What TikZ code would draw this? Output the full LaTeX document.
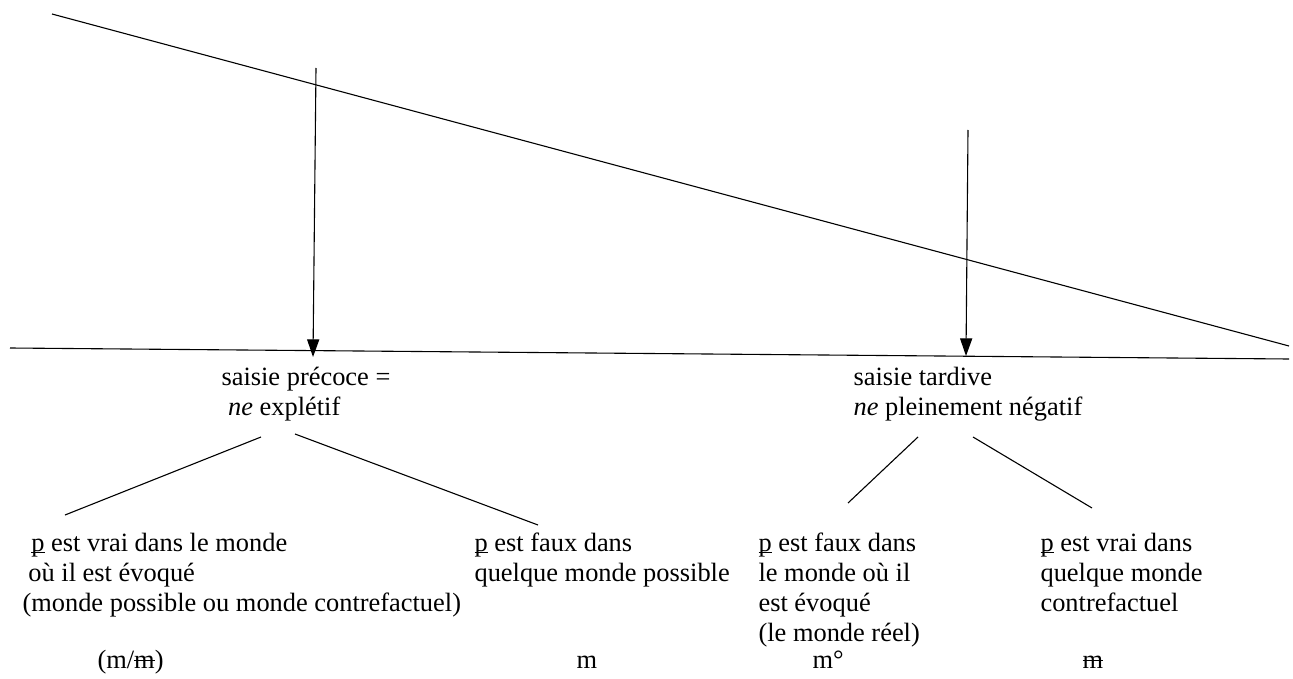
\documentclass[tikz,border=0pt]{standalone}
\usepackage{fontspec}
\setmainfont{Liberation Serif}
\usetikzlibrary{arrows.meta}
\newcommand{\psoul}{\rlap{\rule[-1pt]{6.2pt}{0.5pt}}p}
\newcommand{\mbarre}{\rlap{\rule[3.1pt]{9.3pt}{0.5pt}}m}
\newcommand{\lignes}[1]{\begin{tabular}[t]{@{}l@{}}#1\end{tabular}}
\tikzset{
  every picture/.style={line width=0.5pt},
  txt/.style={anchor=base west, inner sep=0pt, font=\fontsize{12pt}{13.64pt}\selectfont},
  arrow/.style={-{Triangle[length=8pt, width=5.5pt]}},
}

\begin{document}
\begin{tikzpicture}[x=0.4545pt, y=-0.4545pt]
  \useasboundingbox (0,0) rectangle (1293,679);
  % the two lines
  \coordinate (d0) at (52,14);
  \coordinate (d1) at (1289,346);
  \coordinate (h0) at (10,348);
  \coordinate (h1) at (1289,359);
  \draw (d0) -- (d1);
  \draw (h0) -- (h1);
  % the two saisies
  \coordinate (a1) at (316,68);
  \coordinate (b1) at (313,357);
  \coordinate (a2) at (968,130);
  \coordinate (b2) at (966,356);
  \draw[arrow] (a1) -- (b1);
  \draw[arrow] (a2) -- (b2);
  \node[txt] (sp) at (221,385) {\lignes{saisie précoce =\\\hspace*{3pt}\textit{ne} explétif}};
  \node[txt] (st) at (853,385) {\lignes{saisie tardive\\\textit{ne} pleinement négatif}};
  % branches
  \coordinate (g1) at (261,437);
  \coordinate (g2) at (65,515);
  \coordinate (g3) at (295,434);
  \coordinate (g4) at (538,525);
  \coordinate (t1) at (918,437);
  \coordinate (t2) at (848,503);
  \coordinate (t3) at (973,437);
  \coordinate (t4) at (1092,508);
  \draw (g1) -- (g2);
  \draw (g3) -- (g4);
  \draw (t1) -- (t2);
  \draw (t3) -- (t4);
  % the four cases
  \node[txt] (vm) at (22,551) {\lignes{\hspace*{4pt}\psoul{} est vrai dans le monde\\\hspace*{2.7pt}où il est évoqué\\(monde possible ou monde contrefactuel)}};
  \node[txt] (fq) at (474,551) {\lignes{\psoul{} est faux dans\\quelque monde possible}};
  \node[txt] (fr) at (758,551) {\lignes{\psoul{} est faux dans\\le monde où il\\est évoqué\\(le monde réel)}};
  \node[txt] (vq) at (1040,551) {\lignes{\psoul{} est vrai dans\\quelque monde\\contrefactuel}};
  \node[txt] (m1) at (97,668) {(m/\mbarre)};
  \node[txt] (m2) at (576,668) {m};
  \node[txt] (m3) at (812,668) {m°};
  \node[txt] (m4) at (1082,668) {\mbarre};
\end{tikzpicture}
\end{document}
